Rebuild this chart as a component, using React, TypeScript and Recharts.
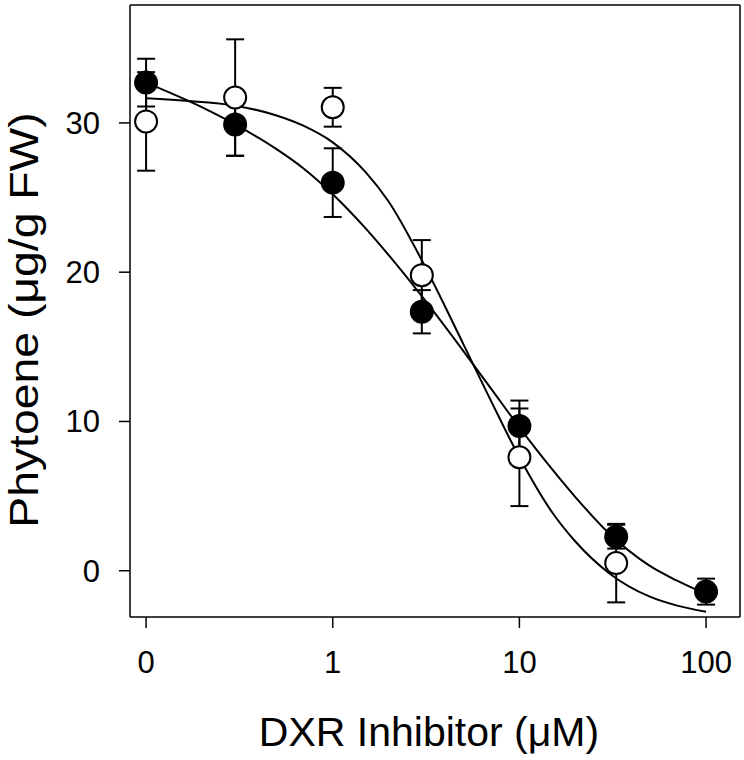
import { ComposedChart, Line, Scatter, ErrorBar, XAxis, YAxis, ReferenceLine } from "recharts";

// concentrations (µM); "0" is drawn at 0.1 on the log axis
const FILLED_X = [0.1, 0.3, 1, 3, 10, 33, 100];
const FILLED_Y = [32.7, 29.9, 26.0, 17.35, 9.7, 2.28, -1.4];
const FILLED_ERR = [1.6, 2.1, 2.3, 1.45, 1.7, 0.8, 0.87];

const OPEN_X = [0.1, 0.3, 1, 3, 10, 33];
const OPEN_Y = [30.1, 31.7, 31.05, 19.8, 7.6, 0.51];
const OPEN_ERR = [3.3, 3.9, 1.3, 2.35, 3.27, 2.63];

// fitted curves
const FIT_X = [0.1, 0.2, 0.3, 0.5, 0.7, 1, 1.5, 2, 3, 5, 7, 10, 15, 20, 30, 50, 70, 100];
const FIT_FILLED = [32.7, 31.04, 29.9, 28.24, 26.93, 25.22, 22.93, 21.12, 18.39, 14.73, 12.25, 9.61, 6.79, 4.92, 2.54, 0.32, -0.67, -1.57];
const FIT_OPEN = [31.66, 31.4, 31.15, 30.5, 29.8, 28.7, 26.7, 24.7, 20.8, 15.2, 11.45, 7.6, 3.9, 1.94, -0.13, -1.74, -2.34, -2.75];

const X_TICKS = [0.1, 1, 10, 100];
const Y_TICKS = [0, 10, 20, 30];
const X_DOMAIN = [0.082, 152];
const Y_DOMAIN = [-3.1, 37.9];

const FONT = "'Liberation Sans', Arial, sans-serif";

const filledPts = FILLED_X.map((x, i) => ({ x, y: FILLED_Y[i], err: FILLED_ERR[i] }));
const openPts = OPEN_X.map((x, i) => ({ x, y: OPEN_Y[i], err: OPEN_ERR[i] }));
const fitFilled = FIT_X.map((x, i) => ({ x, y: FIT_FILLED[i] }));
const fitOpen = FIT_X.map((x, i) => ({ x, y: FIT_OPEN[i] }));

const dot = (fill: string) => (p: any) => (
  <circle cx={p.cx} cy={p.cy} r={11} fill={fill} stroke="#000" strokeWidth={2} />
);

export default function App() {
  return (
    <div style={{ position: "absolute", left: 0, top: 0, background: "#fff" }}>
      <ComposedChart width={744} height={760} margin={{ top: 5, right: 4, left: 40, bottom: 0 }}>
        <XAxis dataKey="x" type="number" scale="log" domain={X_DOMAIN} ticks={X_TICKS}
          allowDataOverflow tickFormatter={(v: number) => (v === 0.1 ? "0" : String(v))}
          height={143} tickSize={11} tickMargin={23}
          axisLine={{ stroke: "#000", strokeWidth: 1.5 }} tickLine={{ stroke: "#000", strokeWidth: 1.5 }}
          tick={{ fill: "#000", fontSize: 31, fontFamily: FONT }}
          label={{
            content: (props: any) => {
              const vb = props.viewBox;
              return (
                <text x={vb.x + vb.width / 2 - 6} y={746} textAnchor="middle"
                  fontSize={41} fontFamily={FONT} fill="#000">DXR Inhibitor (μM)</text>
              );
            },
          }} />
        <YAxis type="number" domain={Y_DOMAIN} ticks={Y_TICKS} allowDataOverflow
          width={90} tickSize={11} tickMargin={19}
          axisLine={{ stroke: "#000", strokeWidth: 1.5 }} tickLine={{ stroke: "#000", strokeWidth: 1.5 }}
          tick={{ fill: "#000", fontSize: 31, fontFamily: FONT }}
          label={{
            content: () => (
              <text x={0} y={0} textAnchor="middle" transform="translate(38, 320) rotate(-90) scale(1.13, 1)"
                fontSize={41} fontFamily={FONT} fill="#000">Phytoene (μg/g FW)</text>
            ),
          }} />

        {/* closing frame: top and right edges */}
        <ReferenceLine y={Y_DOMAIN[1]} stroke="#000" strokeWidth={1.5} />
        <ReferenceLine x={X_DOMAIN[1]} stroke="#000" strokeWidth={1.5} />

        <Line data={fitFilled} dataKey="y" type="monotone" stroke="#000" strokeWidth={2}
          dot={false} isAnimationActive={false} />
        <Line data={fitOpen} dataKey="y" type="monotone" stroke="#000" strokeWidth={2}
          dot={false} isAnimationActive={false} />

        <Scatter data={openPts} dataKey="y" shape={dot("#fff")} isAnimationActive={false}>
          <ErrorBar dataKey="err" direction="y" width={9} stroke="#000" strokeWidth={2} />
        </Scatter>
        <Scatter data={filledPts} dataKey="y" shape={dot("#000")} isAnimationActive={false}>
          <ErrorBar dataKey="err" direction="y" width={9} stroke="#000" strokeWidth={2} />
        </Scatter>
      </ComposedChart>
    </div>
  );
}
